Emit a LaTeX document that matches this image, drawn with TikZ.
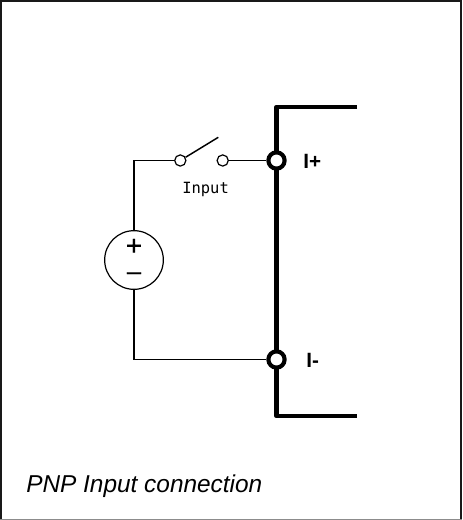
\documentclass[tikz,border=0pt]{standalone}
\usepackage{fontspec}
\setmainfont{Liberation Sans}
\newfontfamily\monof{DejaVu Sans Mono}
\newfontfamily\heavyf[FakeBold=0.6]{Liberation Sans}
\begin{document}
\begin{tikzpicture}[x=0.75pt,y=-0.75pt,
  thinw/.style={line width=1.1pt,line join=miter},
  bus/.style={line width=3.5pt,line join=round},
  term/.style={circle,draw=black,fill=white,line width=3.1pt,minimum size=12.2pt,inner sep=0pt},
  swc/.style={circle,draw=black,fill=white,line width=0.9pt,minimum size=8.4pt,inner sep=0pt},
  src/.style={circle,draw=black,fill=white,line width=0.9pt,minimum size=44pt,inner sep=0pt},
  lab/.style={inner sep=0pt,anchor=base west,text=black}]
\useasboundingbox (0,0) rectangle (462,520);
\fill[black!90] (0,0) rectangle (462,2);
\fill[black!90] (0,0) rectangle (1.5,520);
\fill[black!90] (460,0) rectangle (462,520);
\fill[black!45] (0,518.5) rectangle (462,520);
\coordinate (bt) at (357,107);
\coordinate (bb) at (357,416);
\coordinate (ct) at (276.5,107);
\coordinate (cb) at (276.5,416);
\coordinate (wt) at (134,160.5);
\coordinate (wb) at (134,359.5);
\coordinate (bl) at (218.3,137.3);
\draw[bus] (bt) -- (ct) -- (cb) -- (bb);
\node[term] (ip) at (276.5,160.5) {};
\node[term] (im) at (276.5,359.5) {};
\node[swc] (s1) at (180.3,160.5) {};
\node[swc] (s2) at (222.7,160.5) {};
\node[src] (v) at (134,260) {};
\draw[thinw] (s1) -- (wt) -- (v);
\draw[thinw] (v) -- (wb) -- (im);
\draw[thinw] (s2) -- (ip);
\draw[thinw] (s1) -- (bl);
\node[lab,font=\monof\fontsize{11.6pt}{13pt}\selectfont] (inp) at (182,193.5) {Input};
\node[lab,font=\bfseries\fontsize{15.5pt}{17pt}\selectfont] (lp) at (303,169) {I+};
\node[lab,font=\bfseries\fontsize{15.5pt}{17pt}\selectfont] (lm) at (306,367) {I-};
\node[font=\heavyf\fontsize{21pt}{21pt}\selectfont,inner sep=0pt] (pl) at (134,247) {+};
\node[font=\heavyf\fontsize{19pt}{19pt}\selectfont,inner sep=0pt] (mi) at (134,276) {\textendash};
\node[lab,font=\itshape\fontsize{18.3pt}{20pt}\selectfont] (cap) at (26,492) {PNP Input connection};
\end{tikzpicture}
\end{document}
